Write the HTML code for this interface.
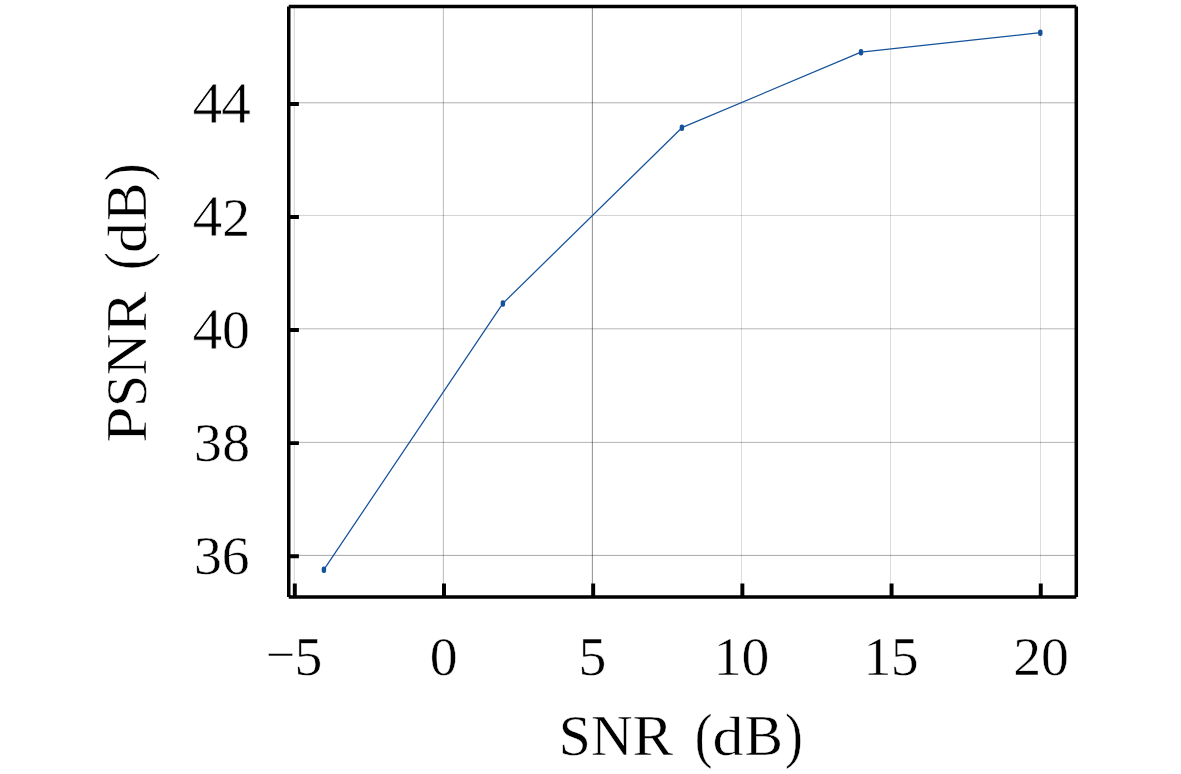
<!DOCTYPE html>
<html lang="en">
<head>
<meta charset="utf-8">
<title>PSNR vs SNR</title>
<style>
html,body{margin:0;padding:0;background:#fff;overflow:hidden;}
body{width:1181px;height:774px;}
svg{display:block;font-size:57.6px;}
text{font-family:"Liberation Serif","DejaVu Serif",serif;fill:#000;stroke:#fff;stroke-width:0.45px;paint-order:fill stroke;}
.par{font-size:61.5px;}
.min{font-size:52.1px;}
.dg{font-size:55.7px;}
.dd{font-size:53.9px;}
.d4{font-size:60px;stroke-width:0.8px;}
</style>
</head>
<body>
<svg role="img" aria-label="PSNR (dB) versus SNR (dB)" width="1181" height="774" viewBox="0 0 1181 774">
<rect width="1181" height="774" fill="#fff"/>
<!-- grid -->
<g fill="#000" shape-rendering="crispEdges">
<rect x="293" y="8" width="1" height="588" fill-opacity="0.04"/>
<rect x="294" y="8" width="1" height="588" fill-opacity="0.137"/>
<rect x="442" y="8" width="1" height="588" fill-opacity="0.04"/>
<rect x="443" y="8" width="1" height="588" fill-opacity="0.231"/>
<rect x="591" y="8" width="1" height="588" fill-opacity="0.06"/>
<rect x="592" y="8" width="1" height="588" fill-opacity="0.388"/>
<rect x="741" y="8" width="1" height="588" fill-opacity="0.137"/>
<rect x="890" y="8" width="1" height="588" fill-opacity="0.137"/>
<rect x="1040" y="8" width="1" height="588" fill-opacity="0.137"/>
<rect x="290" y="102" width="785" height="1" fill-opacity="0.224"/>
<rect x="290" y="103" width="785" height="1" fill-opacity="0.09"/>
<rect x="290" y="215" width="785" height="1" fill-opacity="0.169"/>
<rect x="290" y="328" width="785" height="1" fill-opacity="0.196"/>
<rect x="290" y="329" width="785" height="1" fill-opacity="0.09"/>
<rect x="290" y="441" width="785" height="1" fill-opacity="0.035"/>
<rect x="290" y="442" width="785" height="1" fill-opacity="0.263"/>
<rect x="290" y="554" width="785" height="1" fill-opacity="0.035"/>
<rect x="290" y="555" width="785" height="1" fill-opacity="0.31"/>
</g>
<!-- data -->
<polyline fill="none" stroke="#14529c" stroke-width="1.25" stroke-linejoin="round" points="323.9,569.6 502.9,303.4 681.9,127.7 861,52.2 1040.3,32.6"/>
<g fill="#14529c">
<rect x="321.7" y="566.4" width="4.4" height="6.6" rx="2" ry="2"/>
<rect x="500.7" y="300.2" width="4.4" height="6.6" rx="2" ry="2"/>
<rect x="679.7" y="124.5" width="4.4" height="6.6" rx="2" ry="2"/>
<rect x="858.8" y="49.0" width="4.4" height="6.6" rx="2" ry="2"/>
<rect x="1038.1" y="29.4" width="4.4" height="6.6" rx="2" ry="2"/>
</g>
<!-- ticks -->
<g stroke="#000" fill="none" stroke-width="3.95">
<path d="M294.8 583.6V597M443.99 583.6V597M593.18 583.6V597M742.37 583.6V597M891.56 583.6V597M1040.75 583.6V597"/>
<path d="M288.7 103.95H298.9M288.7 217H298.9M288.7 330.05H298.9M288.7 443.1H298.9M288.7 556.15H298.9"/>
</g>
<!-- frame: four butt-capped spines -->
<path fill="none" stroke="#000" stroke-width="3.5" stroke-linecap="butt" d="M288.75 6.55H1076.3M288.75 597.05H1076.3M288.75 6.55V597.05M1076.3 6.55V597.05"/>
<!-- y tick labels -->
<g>
<text class="d4" x="192.6 220.9" y="123.2">44</text>
<text y="236"><tspan class="d4" x="192.6">4</tspan><tspan class="dg" x="222.2" y="235.7">2</tspan></text>
<text y="349.1"><tspan class="d4" x="192.6">4</tspan><tspan class="dg" x="222.12" y="347.9">0</tspan></text>
<text class="dg" x="193.88 222.22" y="461.45">38</text>
<text class="dg" x="193.88 221.86" y="574.45">36</text>
</g>
<!-- x tick labels -->
<g class="dg">
<text y="674.55"><tspan class="min" x="265.7" y="671.9">−</tspan><tspan x="294.5" y="674.55">5</tspan></text>
<text x="429.87" y="674.55">0</text>
<text x="578.55" y="674.55">5</text>
<text x="713.65 741.47" y="674.55">10</text>
<text x="863.45 890.75" y="674.55">15</text>
<text x="1013.14 1041.12" y="674.55">20</text>
</g>
<!-- axis labels -->
<text y="754.5"><tspan x="558.85 590.9">SN</tspan><tspan x="632.45" textLength="40.6" lengthAdjust="spacingAndGlyphs">R</tspan><tspan x="676"> </tspan><tspan class="par" x="694.7" y="755.7" textLength="17.8" lengthAdjust="spacingAndGlyphs">(</tspan><tspan class="dd" x="712.46" y="754.5" textLength="31" lengthAdjust="spacingAndGlyphs">d</tspan><tspan x="744.6" y="754.5">B</tspan><tspan class="par" x="785" y="755.7" textLength="17.8" lengthAdjust="spacingAndGlyphs">)</tspan></text>
<text transform="translate(145.8 500) rotate(-90)" y="0"><tspan x="57.3" textLength="36.4" lengthAdjust="spacingAndGlyphs">P</tspan><tspan x="93.04 124.88">SN</tspan><tspan x="167.65" textLength="40.6" lengthAdjust="spacingAndGlyphs">R</tspan><tspan x="212"> </tspan><tspan class="par" x="229.98" y="1.2" textLength="17.8" lengthAdjust="spacingAndGlyphs">(</tspan><tspan class="dd" x="246.96" y="0" textLength="31" lengthAdjust="spacingAndGlyphs">d</tspan><tspan x="278.9" y="0">B</tspan><tspan class="par" x="318.8" y="1.2" textLength="17.8" lengthAdjust="spacingAndGlyphs">)</tspan></text>
</svg>
</body>
</html>
